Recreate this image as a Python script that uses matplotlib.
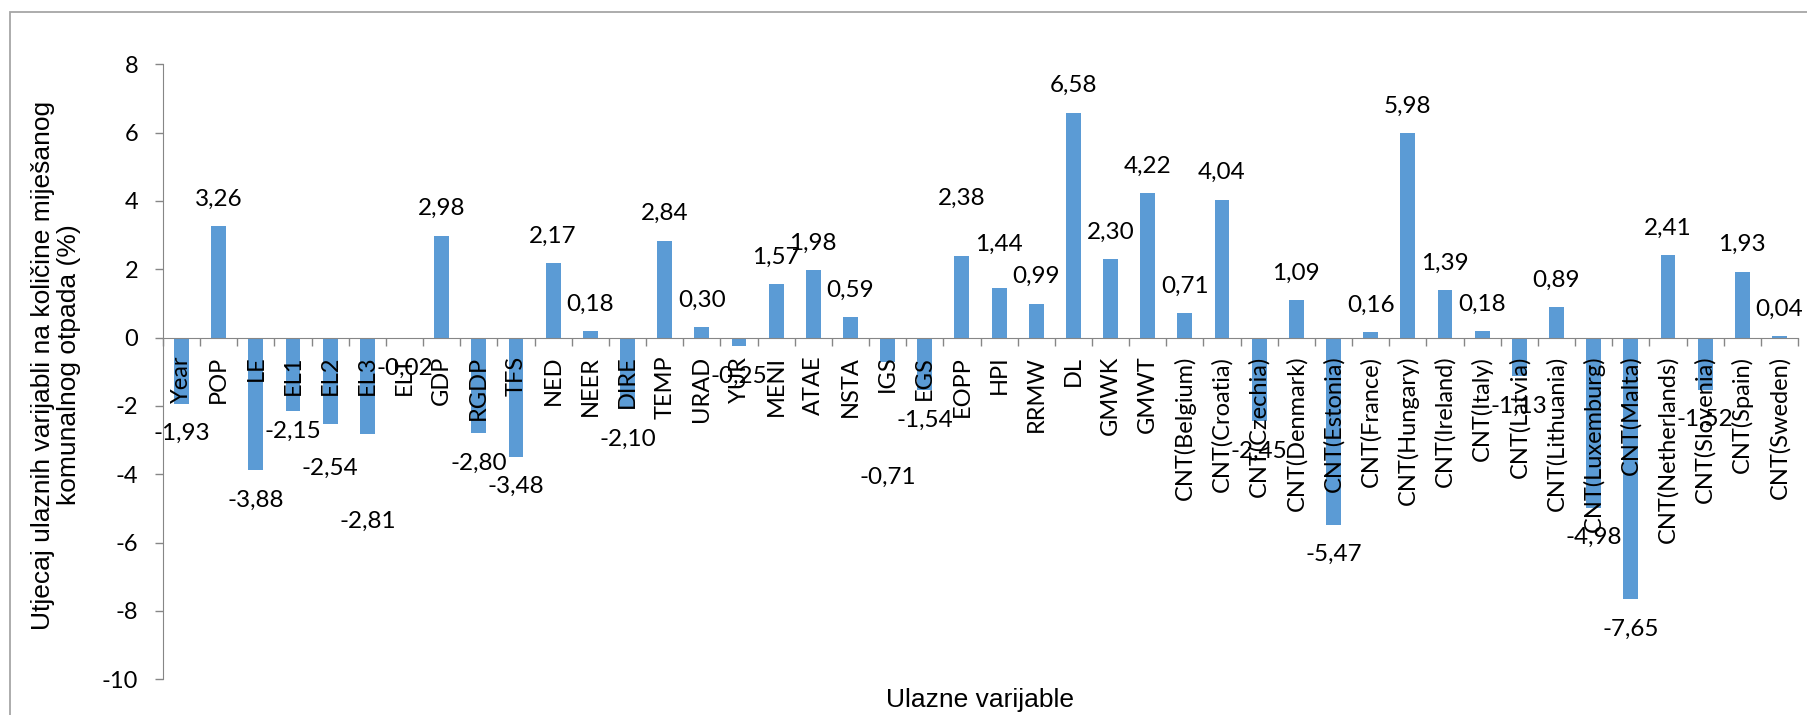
import numpy as np
import matplotlib.pyplot as plt
from matplotlib.patches import Rectangle

# --- data ---
categories = ["Year", "POP", "LE", "EL1", "EL2", "EL3", "ELT", "GDP", "RGDP", "TFS",
              "NED", "NEER", "DIRE", "TEMP", "URAD", "YUR", "MENI", "ATAE", "NSTA", "IGS",
              "EGS", "EOPP", "HPI", "RRMW", "DL", "GMWK", "GMWT",
              "CNT(Belgium)", "CNT(Croatia)", "CNT(Czechia)", "CNT(Denmark)", "CNT(Estonia)",
              "CNT(France)", "CNT(Hungary)", "CNT(Ireland)", "CNT(Italy)", "CNT(Latvia)",
              "CNT(Lithuania)", "CNT(Luxemburg)", "CNT(Malta)", "CNT(Netherlands)",
              "CNT(Slovenia)", "CNT(Spain)", "CNT(Sweden)"]
impact = [-1.93, 3.26, -3.88, -2.15, -2.54, -2.81, -0.02, 2.98, -2.80, -3.48,
          2.17, 0.18, -2.10, 2.84, 0.30, -0.25, 1.57, 1.98, 0.59, -0.71,
          -1.54, 2.38, 1.44, 0.99, 6.58, 2.30, 4.22,
          0.71, 4.04, -2.45, 1.09, -5.47,
          0.16, 5.98, 1.39, 0.18, -1.13,
          0.89, -4.98, -7.65, 2.41,
          -1.52, 1.93, 0.04]

y_title = "Utjecaj ulaznih varijabli na količine miješanog\nkomunalnog otpada (%)"
x_title = "Ulazne varijable"

# labels that were moved by hand in the original (extra shift, pixels)
label_shift = {"EL1": 10, "EL2": -14, "EL3": -58, "IGS": -85, "EOPP": 31, "HPI": 17}

plt.rcParams['axes.unicode_minus'] = False
plt.rcParams['font.family'] = ['Lato', 'DejaVu Sans']

W, H = 1807, 715
fig = plt.figure(figsize=(W / 100, H / 100), dpi=100)
ax = fig.add_axes([163 / W, 1 - 679.3 / H, (1798 - 163) / W, (679.3 - 64.3) / H])

x = np.arange(len(categories))
ax.bar(x, impact, width=0.4, color='#5B9BD5', zorder=1)

ax.set_xlim(-0.5, len(categories) - 0.5)
ax.set_ylim(-10, 8)
ax.set_yticks(np.arange(-10, 9, 2))
ax.tick_params(axis='y', direction='out', length=6, width=1, color='#868686',
               pad=12, labelsize=17)

ax.spines['bottom'].set_position(('data', 0))
for s in ['top', 'right']:
    ax.spines[s].set_visible(False)
for s in ['left', 'bottom']:
    ax.spines[s].set_color('#868686')

ax.set_xticks(x)
ax.set_xticklabels(categories, rotation=90, ha='center', va='top')
ax.set_xticks(np.arange(-0.5, len(categories)), minor=True)
ax.tick_params(axis='x', which='major', length=0, pad=13, labelsize=17)
ax.tick_params(axis='x', which='minor', direction='out', length=5.5, width=1, color='#868686')

for i, (name, v) in enumerate(zip(categories, impact)):
    dy = 27 if v >= 0 else -30
    dy += label_shift.get(name, 0)
    ax.annotate(f"{v:.2f}".replace('.', ','), xy=(i, v), xytext=(0, dy),
                textcoords='offset pixels', ha='center', va='center', fontsize=17.5)

fig.text(56 / W, 1 - 365 / H, y_title, rotation=90, ha='center', va='center',
         multialignment='center', fontsize=19, family='Liberation Sans', linespacing=1.15)
fig.text(980 / W, 1 - 700 / H, x_title, ha='center', va='center',
         fontsize=19, family='Liberation Sans')

fig.add_artist(Rectangle((10 / W, -0.05), 1.2, 1.05 - 11.7 / H, transform=fig.transFigure,
                         fill=False, edgecolor='#a6a6a6', lw=1.3))

fig.savefig('out.png', dpi=100)
